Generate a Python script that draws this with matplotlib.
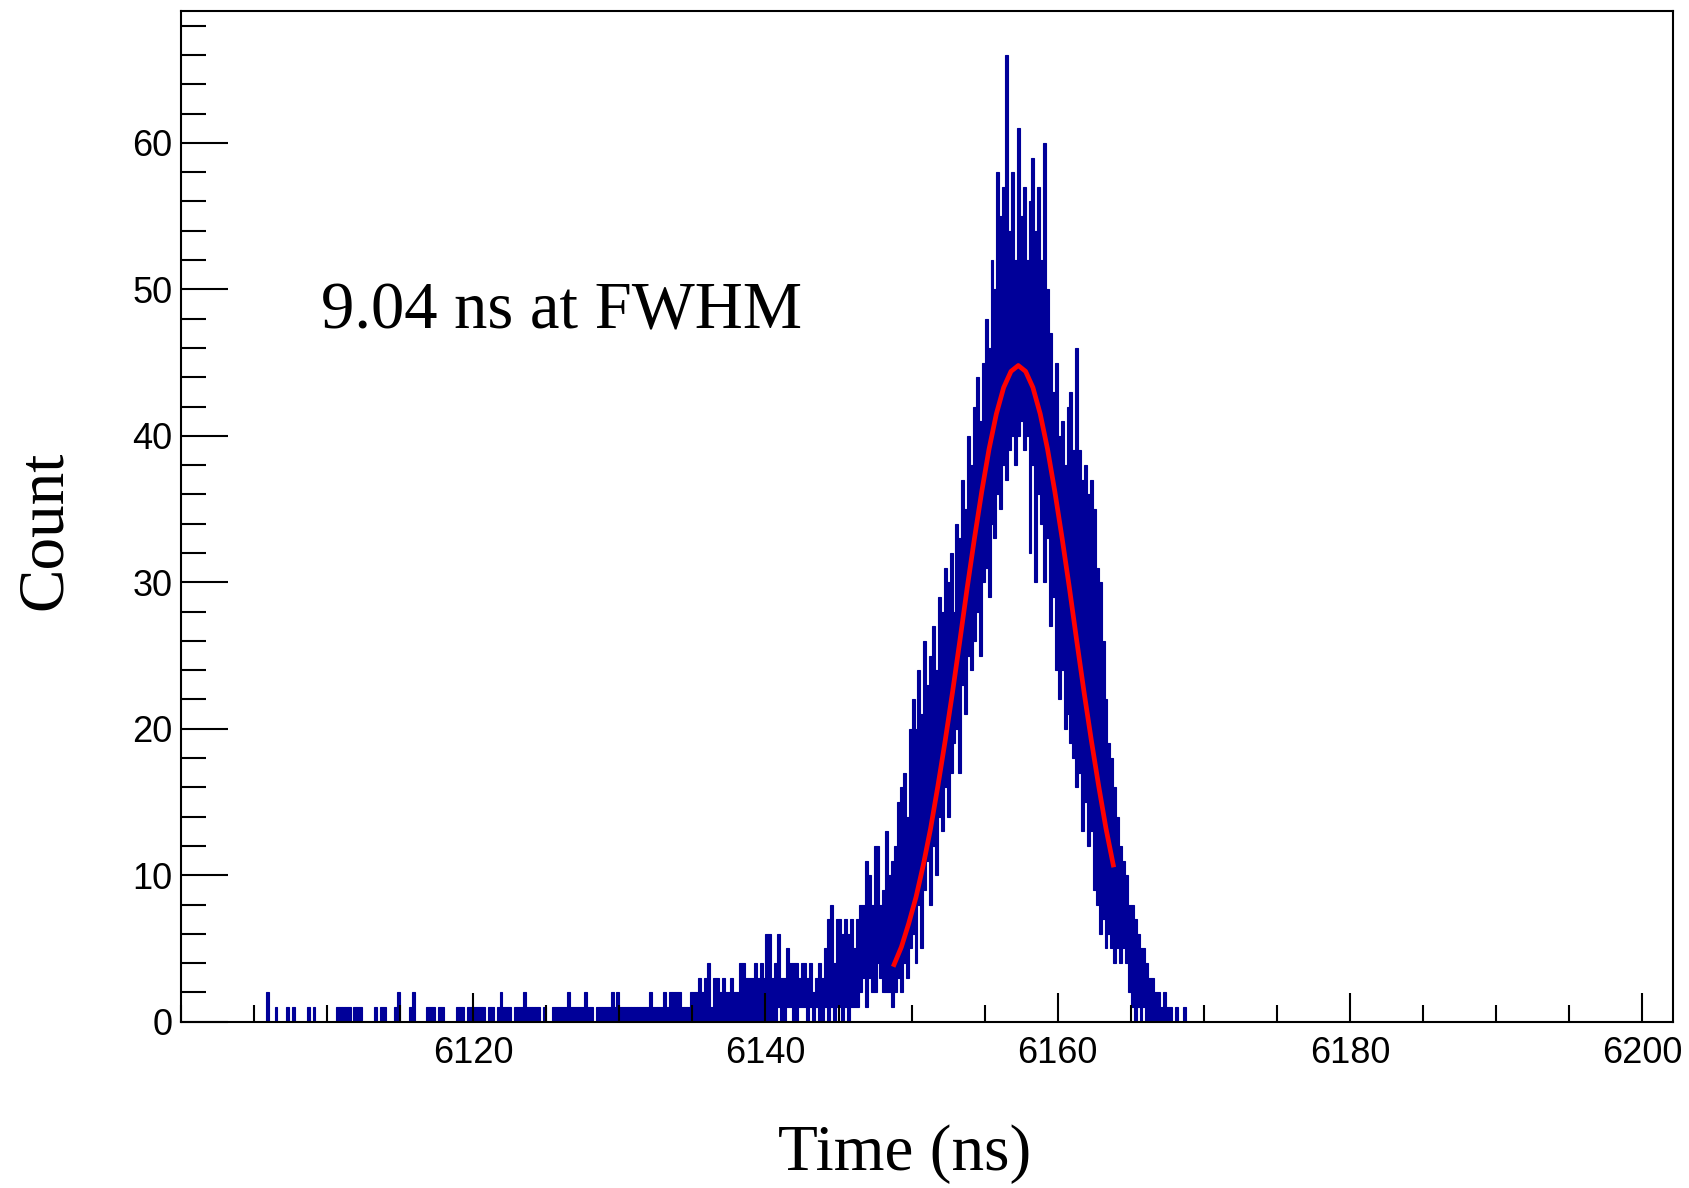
import numpy as np
import matplotlib.pyplot as plt
from matplotlib.ticker import MultipleLocator, FixedLocator

# Histogram drawn column by column: each column spans from the lowest to the
# highest count found in it, 0.2 ns per column
bin_start = 6105.0  # ns
bin_width = 0.2     # ns

col_hi = [
    0, 0, 0, 0, 2, 0, 0, 1, 0, 0, 0, 1, 0, 1, 0, 0, 0, 0, 1, 0, 1, 0, 0, 0, 0,
    0, 0, 0, 1, 1, 1, 1, 1, 0, 1, 1, 1, 0, 0, 0, 0, 1, 0, 1, 1, 0, 0, 0, 1, 2,
    0, 0, 0, 1, 2, 0, 0, 0, 0, 1, 1, 1, 0, 1, 1, 0, 0, 0, 0, 1, 1, 1, 0, 1, 1,
    1, 1, 1, 1, 0, 1, 1, 0, 1, 2, 1, 1, 1, 0, 1, 1, 1, 2, 1, 1, 1, 1, 1, 0, 1,
    0, 0, 1, 1, 1, 1, 1, 2, 1, 1, 1, 1, 1, 2, 1, 1, 0, 1, 1, 1, 1, 1, 2, 1, 2,
    1, 1, 1, 1, 1, 1, 1, 1, 1, 1, 2, 1, 1, 1, 1, 2, 1, 2, 2, 2, 2, 1, 1, 1, 2,
    2, 2, 3, 2, 3, 4, 1, 3, 3, 2, 3, 2, 2, 3, 2, 2, 4, 4, 3, 3, 3, 4, 3, 4, 3,
    6, 6, 3, 4, 6, 3, 3, 5, 4, 4, 4, 3, 4, 4, 3, 4, 2, 3, 4, 3, 5, 7, 8, 4, 7,
    7, 6, 7, 6, 7, 5, 7, 8, 8, 11, 10, 8, 12, 12, 8, 9, 13, 10, 11, 12, 15, 16, 17, 14, 20,
    22, 20, 24, 21, 26, 23, 25, 27, 24, 29, 28, 31, 30, 32, 28, 34, 33, 37, 35, 40, 38, 42, 44, 41, 45,
    48, 46, 52, 50, 58, 55, 57, 66, 54, 58, 52, 61, 55, 57, 52, 56, 59, 54, 57, 52, 60, 50, 47, 43, 45,
    40, 41, 38, 42, 43, 39, 46, 39, 37, 38, 36, 37, 35, 31, 30, 26, 22, 19, 18, 16, 14, 12, 11, 10, 8,
    8, 7, 6, 5, 5, 4, 3, 3, 2, 2, 1, 2, 1, 1, 0, 1, 0, 0, 1, 0, 0, 0, 0, 0, 0,
]

col_lo = [0] * 175 + [
    0, 0, 0, 0, 1, 0, 0, 1, 1, 0, 0, 1, 1, 1, 0, 1, 0, 1, 0, 0, 1, 0, 1, 0, 1,
    1, 0, 1, 0, 1, 1, 1, 2, 3, 1, 3, 2, 2, 4, 3, 2, 2, 2, 1, 2, 3, 2, 4, 3, 5,
    6, 4, 8, 5, 9, 11, 8, 12, 10, 14, 13, 16, 14, 17, 19, 20, 17, 23, 21, 25, 24, 26, 28, 25, 30,
    31, 29, 34, 33, 36, 35, 38, 37, 39, 40, 38, 40, 41, 39, 40, 32, 38, 30, 36, 34, 30, 33, 27, 29, 24,
    22, 24, 20, 21, 19, 18, 16, 17, 13, 15, 12, 13, 9, 8, 6, 7, 5, 6, 5, 4, 5, 4, 5, 4, 2,
    1, 0, 1, 0, 1, 0, 0, 0, 0, 0, 0, 0, 0, 0, 0, 0, 0, 0, 0, 0, 0, 0, 0, 0, 0,
]

# Gaussian fit curve, every 0.5 ns
fit_t = [6148.8, 6149.3, 6149.8, 6150.3, 6150.8, 6151.3, 6151.8, 6152.3,
         6152.8, 6153.3, 6153.8, 6154.3, 6154.8, 6155.3, 6155.8, 6156.3,
         6156.8, 6157.3, 6157.8, 6158.3, 6158.8, 6159.3, 6159.8, 6160.3,
         6160.8, 6161.3, 6161.8, 6162.3, 6162.8, 6163.3, 6163.8]
fit_y = [3.9, 5.1, 6.7, 8.5, 10.7, 13.2, 16.1, 19.2,
         22.5, 26.0, 29.6, 33.0, 36.2, 39.1, 41.5, 43.3,
         44.4, 44.8, 44.4, 43.3, 41.5, 39.1, 36.2, 33.0,
         29.6, 26.0, 22.5, 19.2, 16.1, 13.2, 10.7]

x_labels = [6120, 6140, 6160, 6180, 6200]
annotation = '9.04 ns at FWHM'

hi = np.array(col_hi, dtype=float)
lo = np.array(col_lo, dtype=float)
x = bin_start + bin_width * (np.arange(len(hi)) + 0.5)
keep = hi > lo

fig = plt.figure(figsize=(16.9, 11.88), dpi=100)
ax = fig.add_axes([0.1071, 0.14, 0.8828, 0.8507])

ax.bar(x[keep], (hi - lo)[keep], bottom=lo[keep], width=bin_width,
       color='#000099', edgecolor='#000099', linewidth=0.8)
ax.plot(fit_t, fit_y, color='red', lw=3.4, solid_joinstyle='round')

ax.set_xlim(6100, 6202.1)
ax.set_ylim(0, 69.0)

ax.xaxis.set_major_locator(FixedLocator(x_labels))
ax.xaxis.set_minor_locator(MultipleLocator(5))
ax.yaxis.set_major_locator(MultipleLocator(10))
ax.yaxis.set_minor_locator(MultipleLocator(2))
ax.tick_params(which='both', direction='in', top=False, right=False, width=1.5)
ax.tick_params(axis='x', which='major', length=21, pad=10)
ax.tick_params(axis='x', which='minor', length=12)
ax.tick_params(axis='y', which='major', length=34, pad=6)
ax.tick_params(axis='y', which='minor', length=18)
for lab in ax.get_xticklabels() + ax.get_yticklabels():
    lab.set_fontfamily('Liberation Sans')
    lab.set_fontsize(26)
for sp in ax.spines.values():
    sp.set_linewidth(1.5)

ax.text(6109.6, 47.3, annotation, fontsize=48, family='Liberation Serif',
        va='baseline', ha='left')
fig.text(905 / 1690, 18 / 1188, 'Time (ns)', fontsize=47, family='Liberation Serif',
         ha='center', va='baseline')
fig.text(45 / 1690, 1 - 530 / 1188, 'Count', fontsize=47, family='Liberation Serif',
         rotation=90, ha='center', va='center')

fig.savefig('out.png', dpi=100)
